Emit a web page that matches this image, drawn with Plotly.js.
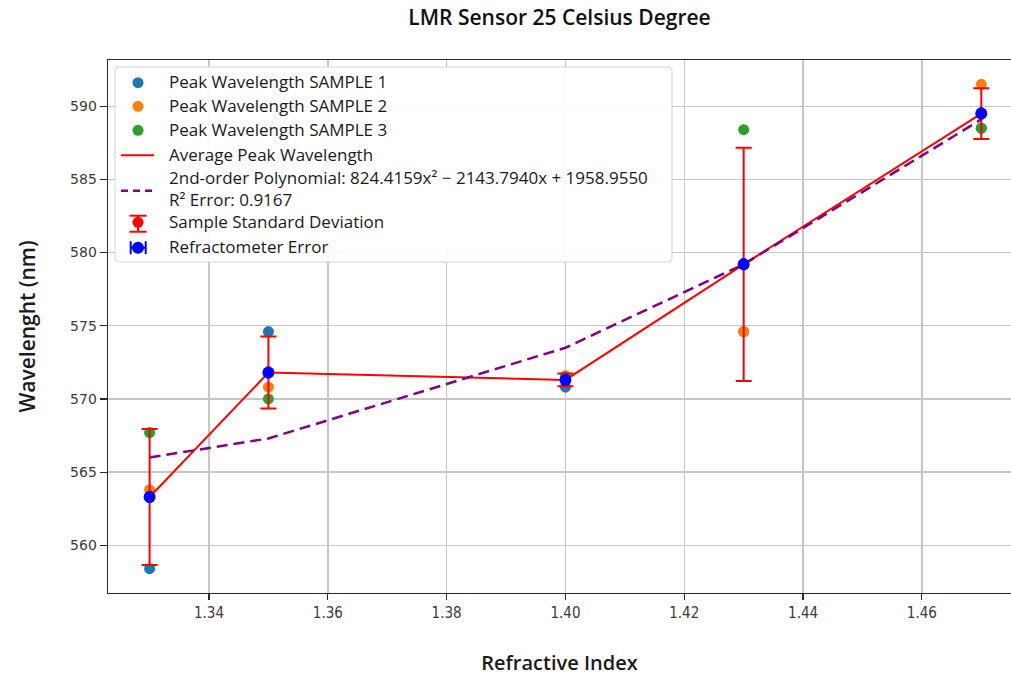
<!DOCTYPE html>
<html>
<head>
<meta charset="utf-8">
<script src="https://cdn.plot.ly/plotly-3.0.1.min.js"></script>
<style>
  html, body { margin: 0; padding: 0; background: #ffffff; }
  #chart { width: 1011px; height: 677px; }
</style>
</head>
<body>
<div id="chart"></div>
<script>
// Peak wavelength of the LMR sensor at 25 °C versus refractive index
const refractiveIndex = [1.33, 1.35, 1.40, 1.43, 1.47];
const sample1 = [558.4, 574.6, 570.8, 574.6, 588.5];
const sample2 = [563.8, 570.8, 571.6, 574.6, 591.5];
const sample3 = [567.7, 570.0, 571.5, 588.4, 588.5];
const averagePeak = [563.3, 571.8, 571.3, 579.2, 589.5];
const sampleStdDev = [4.65, 2.46, 0.44, 7.97, 1.73];
const polyFit = [566.0, 567.3, 573.5, 579.2, 589.1];
const refractometerErr = [0.0002, 0.0002, 0.0002, 0.0002, 0.0002];

const xTicks = [1.34, 1.36, 1.38, 1.40, 1.42, 1.44, 1.46];
const xTickText = ['1.34', '1.36', '1.38', '1.40', '1.42', '1.44', '1.46'];
const yTicks = [560, 565, 570, 575, 580, 585, 590];

const legendLabels = [
  'Peak Wavelength SAMPLE 1',
  'Peak Wavelength SAMPLE 2',
  'Peak Wavelength SAMPLE 3',
  'Average Peak Wavelength',
  '2nd-order Polynomial: 824.4159x\u00b2 \u2212 2143.7940x + 1958.9550<br>R\u00b2 Error: 0.9167',
  'Sample Standard Deviation',
  'Refractometer Error'
];

const C1 = '#1f77b4', C2 = '#ff7f0e', C3 = '#2ca02c';
const RED = '#ff0000', BLUE = '#0000ff', PURPLE = '#800080';

// plot area in pixels
const L = 108, T = 60, W = 903, H = 533;
const fw = 1011, fh = 677;
const px = v => (v - L) / W;
const py = v => (T + H - v) / H;

const traces = [
  { x: refractiveIndex, y: sample1, mode: 'markers', name: legendLabels[0],
    marker: { color: C1, size: 11 } },
  { x: refractiveIndex, y: sample2, mode: 'markers', name: legendLabels[1],
    marker: { color: C2, size: 11 } },
  { x: refractiveIndex, y: sample3, mode: 'markers', name: legendLabels[2],
    marker: { color: C3, size: 11 } },
  { x: refractiveIndex, y: averagePeak, mode: 'lines', name: legendLabels[3],
    line: { color: RED, width: 2 } },
  { x: refractiveIndex, y: polyFit, mode: 'lines', name: 'Polynomial fit',
    line: { color: PURPLE, width: 2.5, dash: '11px,6px' } },
  { x: refractiveIndex, y: averagePeak, mode: 'markers', name: legendLabels[5],
    marker: { color: RED, size: 11 },
    error_y: { type: 'data', array: sampleStdDev, visible: true, color: RED, thickness: 2, width: 8 } },
  { x: refractiveIndex, y: averagePeak, mode: 'markers', name: legendLabels[6],
    marker: { color: BLUE, size: 12 },
    error_x: { type: 'data', array: refractometerErr, visible: true, color: BLUE, thickness: 2, width: 6 } }
];

// Legend box drawn by hand so the error-bar icons can be shown
const shapes = [];
const annotations = [];
const box = { x0: 115, y0: 67, x1: 672, y1: 262, r: 4 };
(function () {
  const { x0, y0, x1, y1, r } = box;
  const rx = r / W, ry = r / H;
  const a = px(x0), b = px(x1), top = py(y0), bot = py(y1);
  const path = `M ${a + rx},${top} L ${b - rx},${top} Q ${b},${top} ${b},${top - ry} ` +
    `L ${b},${bot + ry} Q ${b},${bot} ${b - rx},${bot} L ${a + rx},${bot} Q ${a},${bot} ${a},${bot + ry} ` +
    `L ${a},${top - ry} Q ${a},${top} ${a + rx},${top} Z`;
  shapes.push({ type: 'path', xref: 'paper', yref: 'paper', path: path,
    fillcolor: 'rgba(255,255,255,0.92)', line: { color: '#d4d4d4', width: 1 } });
})();

function dot(cx, cy, r, color) {
  shapes.push({ type: 'circle', xref: 'paper', yref: 'paper',
    x0: px(cx - r), x1: px(cx + r), y0: py(cy + r), y1: py(cy - r),
    fillcolor: color, line: { width: 0 } });
}
function seg(xa, ya, xb, yb, color, width, dash) {
  shapes.push({ type: 'line', xref: 'paper', yref: 'paper',
    x0: px(xa), x1: px(xb), y0: py(ya), y1: py(yb),
    line: { color: color, width: width, dash: dash || 'solid' } });
}
function label(text, ty) {
  annotations.push({ xref: 'paper', yref: 'paper', x: px(167), y: py(ty),
    xanchor: 'left', yanchor: 'middle', align: 'left', showarrow: false, text: text,
    font: { family: 'Open Sans, Noto Sans, sans-serif', size: 17, color: '#1a1a1a' } });
}

const iconX = 138;
dot(iconX, 82.7, 5.5, C1);  label(legendLabels[0], 81.5);
dot(iconX, 106.3, 5.5, C2); label(legendLabels[1], 105);
dot(iconX, 130.3, 5.5, C3); label(legendLabels[2], 129);
seg(121, 155.3, 154, 155.3, RED, 2);  label(legendLabels[3], 154.5);
seg(121, 190.7, 154, 190.7, PURPLE, 2.5, '7px,5px');
label(legendLabels[4], 188);
// sample standard deviation icon
seg(iconX, 215.7, iconX, 231.7, RED, 2);
seg(iconX - 8.5, 215.7, iconX + 8.5, 215.7, RED, 2);
seg(iconX - 8.5, 231.7, iconX + 8.5, 231.7, RED, 2);
dot(iconX, 222.3, 5.5, RED); label(legendLabels[5], 221.5);
// refractometer error icon
seg(130.7, 247.7, 145.7, 247.7, BLUE, 2);
seg(130.7, 241.2, 130.7, 254.2, BLUE, 2);
seg(145.7, 241.2, 145.7, 254.2, BLUE, 2);
dot(iconX, 247.7, 6, BLUE); label(legendLabels[6], 246.5);

const layout = {
  width: fw, height: fh,
  margin: { l: L, r: fw - L - W, t: T, b: fh - T - H, pad: 0 },
  paper_bgcolor: '#ffffff', plot_bgcolor: '#ffffff',
  showlegend: false,
  title: {
    text: 'LMR Sensor 25 Celsius Degree',
    x: 0.5, xref: 'paper', xanchor: 'center',
    y: 1 - 18 / fh, yref: 'container', yanchor: 'middle',
    font: { family: 'Open Sans, Noto Sans, sans-serif', size: 21, weight: 600, color: '#111111' }
  },
  xaxis: {
    range: [1.323, 1.475],
    tickvals: xTicks, ticktext: xTickText,
    showgrid: true, gridcolor: '#c6c6c6', gridwidth: 1.4,
    zeroline: false,
    showline: true, linecolor: '#2a2a2a', linewidth: 1.4, mirror: true,
    ticks: 'outside', ticklen: 6, tickwidth: 1.2, tickcolor: '#2a2a2a',
    tickfont: { family: 'DejaVu Sans Condensed, Liberation Sans Narrow, Liberation Sans, sans-serif', size: 15, color: '#3a3a3a' },
    title: {
      text: 'Refractive Index', standoff: 34,
      font: { family: 'Open Sans, Noto Sans, sans-serif', size: 20, weight: 600, color: '#1a1a1a' }
    }
  },
  yaxis: {
    range: [556.74, 593.16],
    tickvals: yTicks,
    showgrid: true, gridcolor: '#c6c6c6', gridwidth: 1.4,
    zeroline: false,
    showline: true, linecolor: '#2a2a2a', linewidth: 1.4, mirror: false,
    ticks: 'outside', ticklen: 7, tickwidth: 1.2, tickcolor: '#2a2a2a',
    tickfont: { family: 'DejaVu Sans, sans-serif', size: 14, color: '#3a3a3a' },
    title: {
      text: 'Wavelenght (nm)', standoff: 28,
      font: { family: 'Open Sans, Noto Sans, sans-serif', size: 21, weight: 600, color: '#1a1a1a' }
    }
  },
  shapes: shapes,
  annotations: annotations
};

Plotly.newPlot('chart', traces, layout, { displayModeBar: false, staticPlot: true });
</script>
</body>
</html>
